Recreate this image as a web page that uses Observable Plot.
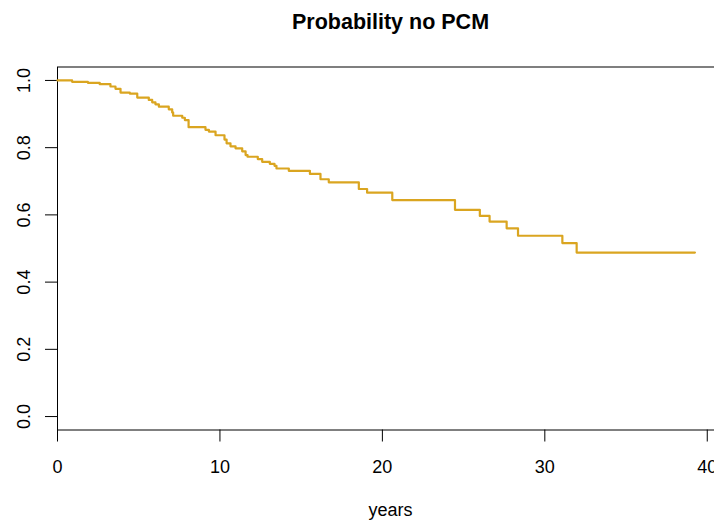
<!DOCTYPE html>
<html>
<head>
<meta charset="utf-8">
<script src="https://cdn.jsdelivr.net/npm/d3@7"></script>
<script src="https://cdn.jsdelivr.net/npm/@observablehq/plot@0.6"></script>
<style>
  html, body { margin: 0; padding: 0; background: white; overflow: hidden; }
</style>
</head>
<body>
<script>
const title = "Probability no PCM";
const xLabel = "years";
const xTicks = [0, 10, 20, 30, 40];
const yTicks = [0, 0.2, 0.4, 0.6, 0.8, 1.0];
const times = [0, 0.90, 1.87, 2.60, 3.26, 3.57, 3.88, 4.45, 4.91, 5.62, 5.83, 6.03, 6.24, 6.85, 7.06, 7.12, 7.68, 7.84, 8.07, 9.11, 9.32, 9.73, 10.28, 10.41, 10.65, 10.96, 11.37, 11.58, 11.70, 12.33, 12.60, 13.07, 13.36, 13.48, 14.24, 15.54, 16.19, 16.70, 18.55, 19.06, 20.61, 24.47, 26.00, 26.60, 27.65, 28.35, 31.08, 31.96, 39.24];
const surv = [1.0, 0.996, 0.993, 0.989, 0.982, 0.975, 0.964, 0.961, 0.949, 0.942, 0.935, 0.929, 0.922, 0.914, 0.905, 0.895, 0.889, 0.882, 0.861, 0.853, 0.848, 0.837, 0.824, 0.813, 0.804, 0.798, 0.789, 0.778, 0.773, 0.766, 0.758, 0.752, 0.746, 0.738, 0.731, 0.722, 0.706, 0.697, 0.677, 0.666, 0.644, 0.615, 0.597, 0.580, 0.560, 0.538, 0.516, 0.488, 0.488];

const data = times.map((t, i) => ({t, s: surv[i]}));
const font = "'Liberation Sans', Arial, Helvetica, sans-serif";

const chart = Plot.plot({
  width: 714,
  height: 520,
  marginLeft: 57,
  marginRight: -9,
  marginTop: 66.5,
  marginBottom: 90.5,
  style: {fontFamily: font, fontSize: "18px", background: "white", color: "black"},
  x: {domain: [0, 41]},
  y: {domain: [-0.04, 1.04]},
  marks: [
    Plot.frame({stroke: "black", strokeWidth: 1}),
    Plot.axisX(xTicks, {tickSize: 12, tickPadding: 18, tickFormat: d => String(d), label: null, fontSize: 18, stroke: "black"}),
    Plot.axisY(yTicks, {tickSize: 12, tickFormat: () => "", label: null, stroke: "black"}),
    Plot.text(yTicks, {y: d => d, frameAnchor: "left", dx: -33, rotate: -90, text: d => d.toFixed(1), textAnchor: "middle", lineAnchor: "middle", fontSize: 18, fill: "black"}),
    Plot.text([xLabel], {frameAnchor: "bottom", dy: 73.5, text: d => d, lineAnchor: "top", fontSize: 18, fill: "black"}),
    Plot.text([title], {frameAnchor: "top", dy: -53, text: d => d, lineAnchor: "top", fontSize: 21.5, fontWeight: "bold", fill: "black"}),
    Plot.line(data, {x: "t", y: "s", curve: "step-after", stroke: "#DAA520", strokeWidth: 2.2})
  ]
});
document.body.appendChild(chart);
</script>
</body>
</html>
